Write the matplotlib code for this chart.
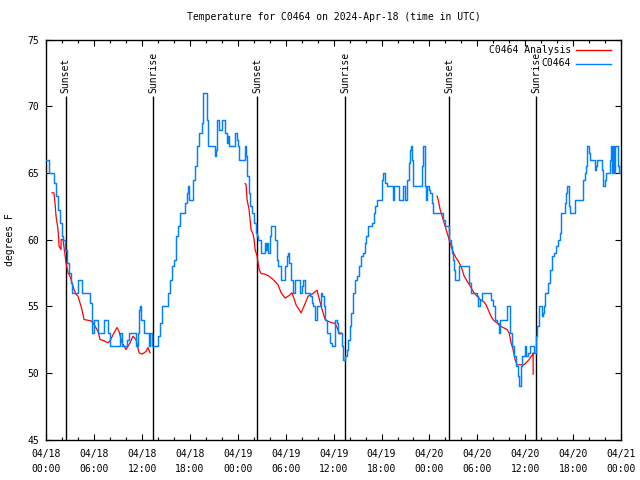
import matplotlib
matplotlib.use("Agg")
import matplotlib.pyplot as plt
from matplotlib.ticker import MultipleLocator

# ---- data (hours since 2024-04-18 00:00 UTC, temperature degF) ----
obs_h = [0.0, 0.34, 0.96, 1.22, 1.47, 1.72, 1.97, 2.09, 2.34, 2.59, 2.84, 3.09, 3.22, 3.97, 4.47,
         5.48, 5.73, 5.98, 6.48, 7.23, 7.73, 7.98, 9.23, 9.49, 10.11, 10.36, 11.24, 11.49, 11.62,
         11.74, 11.87, 12.24, 12.87, 13.0, 13.25, 14.0, 14.25, 14.5, 15.25, 15.5, 15.75, 16.0,
         16.25, 16.5, 16.75, 17.38, 17.63, 17.76, 17.88, 18.38, 18.63, 18.88, 19.14, 19.51, 19.64,
         20.14, 20.26, 21.14, 21.27, 21.39, 21.64, 22.02, 22.39, 22.64, 22.8, 22.95, 23.64, 23.9,
         24.02, 24.15, 24.9, 25.03, 25.15, 25.4, 25.53, 25.78, 26.03, 26.28, 26.4, 26.53, 26.91,
         27.41, 27.53, 27.66, 27.79, 28.04, 28.16, 28.66, 28.92, 29.04, 29.42, 29.92, 30.17, 30.29,
         30.42, 30.67, 30.92, 31.17, 31.79, 32.04, 32.17, 32.42, 33.05, 33.3, 33.42, 33.67, 33.92,
         34.42, 34.55, 34.8, 34.93, 35.18, 35.55, 35.8, 36.18, 36.43, 36.56, 37.06, 37.18, 37.43,
         37.68, 37.81, 38.06, 38.19, 38.44, 38.69, 38.94, 39.19, 39.44, 39.69, 39.94, 40.07, 40.32,
         40.82, 41.07, 41.2, 41.45, 42.1, 42.2, 42.45, 42.7, 43.45, 43.58, 44.2, 44.7, 44.95, 45.2,
         45.45, 45.58, 45.7, 45.83, 45.95, 47.1, 47.21, 47.46, 47.58, 47.71, 47.96, 48.09, 48.34,
         48.46, 49.72, 49.97, 50.47, 50.72, 50.85, 50.97, 51.1, 51.22, 51.72, 52.97, 53.22, 53.97,
         54.1, 54.35, 54.6, 55.72, 55.97, 56.22, 56.47, 56.73, 56.85, 57.73, 58.1, 58.36, 58.61,
         58.86, 59.11, 59.23, 59.48, 59.61, 59.99, 60.11, 60.36, 60.61, 61.11, 61.36, 61.49, 61.74,
         62.12, 62.24, 62.37, 62.49, 62.87, 63.12, 63.37, 63.62, 63.87, 64.12, 64.37, 64.5, 65.0,
         65.12, 65.25, 65.5, 65.62, 66.25, 67.25, 67.5, 67.63, 67.75, 68.0, 68.13, 68.75, 68.88,
         69.0, 69.63, 69.76, 70.01, 70.13, 70.64, 70.76, 70.9, 71.0, 71.1, 71.26, 71.64, 71.76, 72.0]
obs_t = [66.0, 65.0, 64.25, 63.25, 62.25, 61.25, 60.25, 60.0, 59.25, 58.25, 57.5, 56.75, 56.0, 57.0, 56.0,
         55.25, 53.0, 54.0, 53.0, 54.0, 53.0, 52.0, 53.0, 52.0, 52.5, 53.0, 52.0, 53.0, 54.75,
         55.0, 54.0, 53.0, 52.0, 53.0, 52.0, 52.75, 53.75, 55.0, 56.0, 57.0, 58.0, 58.5,
         60.25, 61.0, 62.0, 62.75, 63.5, 64.0, 63.0, 64.5, 65.5, 67.0, 68.0, 68.75, 71.0,
         69.0, 67.0, 66.25, 66.75, 69.0, 68.25, 69.0, 68.0, 67.25, 67.75, 67.0, 68.0, 67.5,
         67.0, 66.0, 67.0, 66.25, 64.75, 63.5, 62.5, 62.0, 61.25, 60.5, 60.25, 60.0, 59.0,
         59.75, 59.25, 59.75, 59.0, 60.25, 61.0, 60.0, 58.5, 58.0, 57.0, 58.0, 58.75, 59.0,
         58.25, 57.0, 56.0, 57.0, 56.0, 56.5, 57.0, 56.0, 55.75, 55.25, 55.0, 54.0, 55.0,
         56.0, 55.75, 55.0, 54.0, 53.0, 52.25, 52.0, 54.0, 53.75, 53.0, 52.0, 51.0, 51.25,
         51.75, 52.5, 53.5, 54.5, 56.0, 57.0, 57.25, 58.0, 58.75, 59.0, 59.75, 60.25, 61.0,
         61.25, 62.0, 62.5, 63.0, 64.5, 65.0, 64.25, 64.0, 63.0, 64.0, 63.0, 64.0, 63.0, 64.5,
         65.75, 66.75, 67.0, 66.0, 64.0, 65.5, 67.0, 64.0, 63.0, 64.0, 63.75, 63.5, 62.75,
         62.0, 61.5, 61.0, 60.0, 59.5, 59.0, 58.5, 57.75, 57.0, 58.0, 56.75, 56.0, 55.75,
         55.0, 55.5, 56.0, 55.5, 55.0, 54.0, 53.75, 53.0, 54.0, 55.0, 53.0, 52.0, 51.25,
         50.5, 49.75, 49.0, 50.5, 51.25, 52.0, 51.25, 51.5, 52.0, 51.5, 52.75, 53.5, 55.0,
         54.25, 54.5, 55.0, 56.0, 56.75, 57.75, 58.75, 59.0, 59.5, 60.0, 60.5, 62.0, 62.75,
         63.5, 64.0, 62.5, 62.0, 63.0, 64.5, 65.0, 65.5, 67.0, 66.5, 66.0, 65.25, 65.5,
         66.0, 65.25, 64.0, 64.5, 65.0, 66.0, 67.0, 65.0, 67.0, 65.0, 67.0, 65.5, 65.0, 65.75]

ana1_h = [0.71, 0.96, 1.09, 1.22, 1.47, 1.6, 1.85, 1.85, 2.09, 2.47, 2.72, 2.97, 3.22, 3.47, 3.72,
          3.97, 4.22, 4.47, 4.72, 5.6, 5.85, 6.1, 6.48, 6.73, 7.23, 7.73, 7.98, 8.48, 8.86, 9.11,
          9.49, 9.99, 10.49, 10.86, 11.24, 11.62, 11.99, 12.49, 12.74, 13.0]
ana1_t = [63.5, 63.5, 62.75, 61.75, 60.75, 59.5, 59.25, 60.0, 60.0, 58.25, 57.5, 57.25, 56.75, 56.25, 55.9,
          55.75, 55.25, 54.75, 54.0, 53.9, 53.75, 53.5, 53.1, 52.5, 52.4, 52.25, 52.4, 53.0, 53.4, 53.1,
          52.25, 51.75, 52.25, 52.75, 52.5, 51.5, 51.4, 51.6, 51.9, 51.5]
ana2_h = [24.9, 25.03, 25.15, 25.4, 25.53, 25.65, 25.9, 26.03, 26.16, 26.41, 26.53, 26.66, 26.91, 27.41,
          27.91, 28.41, 29.04, 29.42, 29.92, 30.42, 30.79, 31.29, 31.92, 32.29, 32.8, 33.3, 33.92, 34.17,
          34.55, 34.93, 35.18, 35.8, 36.18, 36.43, 36.68, 36.81, 36.93]
ana2_t = [64.2, 64.1, 63.0, 62.25, 61.5, 60.75, 60.4, 60.0, 59.25, 58.75, 58.25, 57.75, 57.45, 57.4,
          57.25, 57.0, 56.6, 56.0, 55.6, 55.8, 56.0, 55.1, 54.5, 55.0, 55.75, 55.9, 56.2, 55.6,
          54.75, 54.0, 53.9, 53.75, 53.7, 53.4, 53.0, 52.9, 53.0]
ana3_h = [48.96, 49.09, 49.34, 49.59, 49.84, 50.09, 50.34, 50.59, 50.85, 51.1, 51.35, 51.6, 51.85, 52.1,
          52.35, 52.6, 52.85, 53.1, 53.35, 53.6, 53.97, 54.35, 54.85, 55.1, 55.35, 55.6, 55.85, 56.1,
          56.47, 56.85, 57.22, 57.73, 57.98, 58.23, 58.48, 58.73, 58.98, 59.48, 59.86, 60.11, 60.49,
          60.74, 60.86, 60.99, 61.0]
ana3_t = [63.25, 63.0, 62.25, 61.75, 61.25, 60.75, 60.25, 59.75, 59.25, 58.9, 58.6, 58.4, 58.1, 57.75,
          57.25, 57.0, 56.75, 56.5, 56.25, 56.0, 55.75, 55.5, 55.3, 55.1, 54.75, 54.4, 54.1, 53.9,
          53.75, 53.5, 53.4, 53.25, 53.0, 52.25, 51.75, 51.0, 50.6, 50.6, 50.6, 50.75, 51.0,
          51.25, 51.3, 51.5, 49.9]

sun_h = [2.42, 13.43, 26.45, 37.42, 50.47, 61.41]
sun_labels = ["Sunset", "Sunrise", "Sunset", "Sunrise", "Sunset", "Sunrise"]

xtick_h = list(range(0, 73, 6))
xtick_labels = ["04/18\n00:00", "04/18\n06:00", "04/18\n12:00", "04/18\n18:00",
                "04/19\n00:00", "04/19\n06:00", "04/19\n12:00", "04/19\n18:00",
                "04/20\n00:00", "04/20\n06:00", "04/20\n12:00", "04/20\n18:00",
                "04/21\n00:00"]
ytick_vals = [45, 50, 55, 60, 65, 70, 75]

# ---- style ----
FONT = "DejaVu Sans Mono"
FS = 7
BLUE = "#0080ff"
RED = "#ff0000"

fig = plt.figure(figsize=(6.4, 4.8), dpi=100)
ax = fig.add_axes([46.3 / 640, 1 - 439.5 / 480, (621 - 46.3) / 640, (439.5 - 39.5) / 480])

ax.set_xlim(0, 72)
ax.set_ylim(45, 75)

for h, lab in zip(sun_h, sun_labels):
    ax.vlines(h, 45, 70.8, color="black", lw=1.0, zorder=2)
    ax.text(h, 71.0, lab, rotation=90, ha="center", va="bottom",
            fontsize=FS, family=FONT, color="black")

for hh, tt in ((ana1_h, ana1_t), (ana2_h, ana2_t), (ana3_h, ana3_t)):
    ax.plot(hh, tt, color=RED, lw=0.9, zorder=3)
ax.plot(obs_h, obs_t, color=BLUE, lw=1.05, drawstyle="steps-post", zorder=4)

# legend (gnuplot style: text right-aligned, sample to its right)
leg_items = [("C0464 Analysis", RED), ("C0464", BLUE)]
for i, (lab, col) in enumerate(leg_items):
    yy = 0.973 - i * 0.033
    ax.text(0.913, yy, lab, transform=ax.transAxes, ha="right", va="center",
            fontsize=FS, family=FONT)
    ax.plot([0.922, 0.982], [yy, yy], transform=ax.transAxes, color=col, lw=1.0, clip_on=False)

ax.set_xticks(xtick_h)
ax.set_xticklabels(xtick_labels, family=FONT, fontsize=FS, linespacing=1.6)
ax.xaxis.set_minor_locator(MultipleLocator(2))
ax.set_yticks(ytick_vals)
ax.set_yticklabels([str(v) for v in ytick_vals], family=FONT, fontsize=FS)

ax.tick_params(axis="both", which="major", direction="in", length=4.5, width=0.8,
               top=True, right=True, pad=5)
ax.tick_params(axis="x", which="major", pad=7)
ax.tick_params(axis="x", which="minor", direction="in", length=2.5, width=0.8,
               top=True, bottom=True)
for sp in ax.spines.values():
    sp.set_linewidth(1.0)

ax.set_ylabel("degrees F", family=FONT, fontsize=FS, labelpad=9)
ax.set_title("Temperature for C0464 on 2024-Apr-18 (time in UTC)",
             family=FONT, fontsize=FS, pad=14)

fig.savefig("out.png", dpi=100)
